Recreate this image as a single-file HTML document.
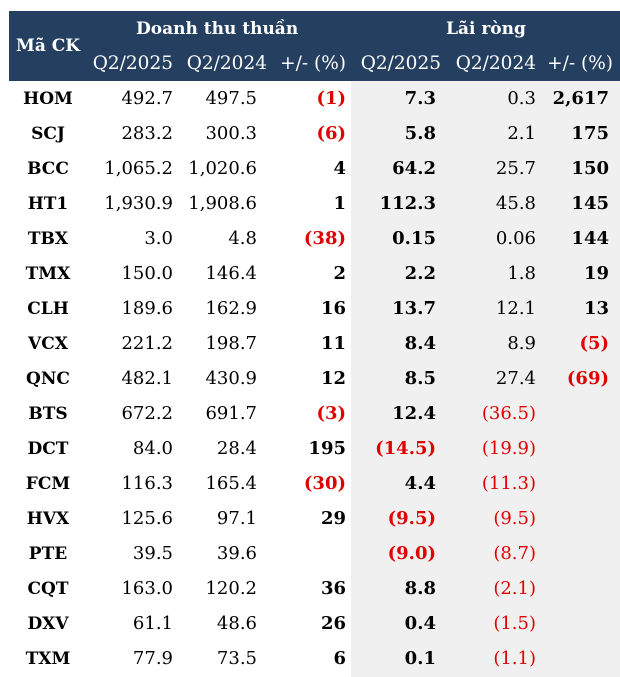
<!DOCTYPE html>
<html><head><meta charset="utf-8"><style>
body{margin:0;width:620px;height:677px;background:#fff;position:relative;overflow:hidden;font-family:"DejaVu Serif","Liberation Serif",serif;}
.hd{position:absolute;left:9px;top:11px;width:611px;height:70px;background:#253f60;}
.gr{position:absolute;left:351px;top:81px;width:269px;height:596px;background:#f0f0f0;}
.t{position:absolute;white-space:nowrap;font-size:18px;line-height:20px;color:#000;}
.w{color:#fff;font-weight:bold;}
.b{font-weight:bold}
.r{color:#e00000}
</style></head><body>
<div class="hd"></div><div class="gr"></div>
<div class="t w" style="left:16px;top:36px;font-size:17px">Mã CK</div>
<div class="t w" style="left:136px;top:19px;font-size:17px">Doanh thu thuần</div>
<div class="t w" style="left:446px;top:19px;font-size:17px">Lãi ròng</div>
<div id="sh"></div>
<div id="rows"></div>
<script>
var sh=document.getElementById('sh'),h='';
var subs=[['Q2/2025',173],['Q2/2024',267],['+/- (%)',346],['Q2/2025',441],['Q2/2024',536],['+/- (%)',613]];
subs.forEach(function(s){h+='<div class="t w" style="right:'+(620-s[1])+'px;top:54px;font-weight:normal;font-size:18.5px">'+s[0]+'</div>';});
sh.innerHTML=h;
var d=[
['HOM','492.7','497.5','(1)','7.3','0.3','2,617'],
['SCJ','283.2','300.3','(6)','5.8','2.1','175'],
['BCC','1,065.2','1,020.6','4','64.2','25.7','150'],
['HT1','1,930.9','1,908.6','1','112.3','45.8','145'],
['TBX','3.0','4.8','(38)','0.15','0.06','144'],
['TMX','150.0','146.4','2','2.2','1.8','19'],
['CLH','189.6','162.9','16','13.7','12.1','13'],
['VCX','221.2','198.7','11','8.4','8.9','(5)'],
['QNC','482.1','430.9','12','8.5','27.4','(69)'],
['BTS','672.2','691.7','(3)','12.4','(36.5)',''],
['DCT','84.0','28.4','195','(14.5)','(19.9)',''],
['FCM','116.3','165.4','(30)','4.4','(11.3)',''],
['HVX','125.6','97.1','29','(9.5)','(9.5)',''],
['PTE','39.5','39.6','','(9.0)','(8.7)',''],
['CQT','163.0','120.2','36','8.8','(2.1)',''],
['DXV','61.1','48.6','26','0.4','(1.5)',''],
['TXM','77.9','73.5','6','0.1','(1.1)','']];
var rr=[173,257,346,436,536,609],bold=[0,0,1,1,0,1];h='';
d.forEach(function(r,i){var y=89+i*35;
h+='<div class="t b" style="left:0;width:96px;text-align:center;top:'+y+'px;font-size:17px">'+r[0]+'</div>';
for(var j=1;j<7;j++){var v=r[j];if(!v)continue;var c=(bold[j-1]?'b ':'')+(v[0]=='('?'r':'');
h+='<div class="t '+c+'" style="right:'+(620-rr[j-1])+'px;top:'+y+'px">'+v+'</div>';}
});
document.getElementById('rows').innerHTML=h;
</script>
</body></html>
